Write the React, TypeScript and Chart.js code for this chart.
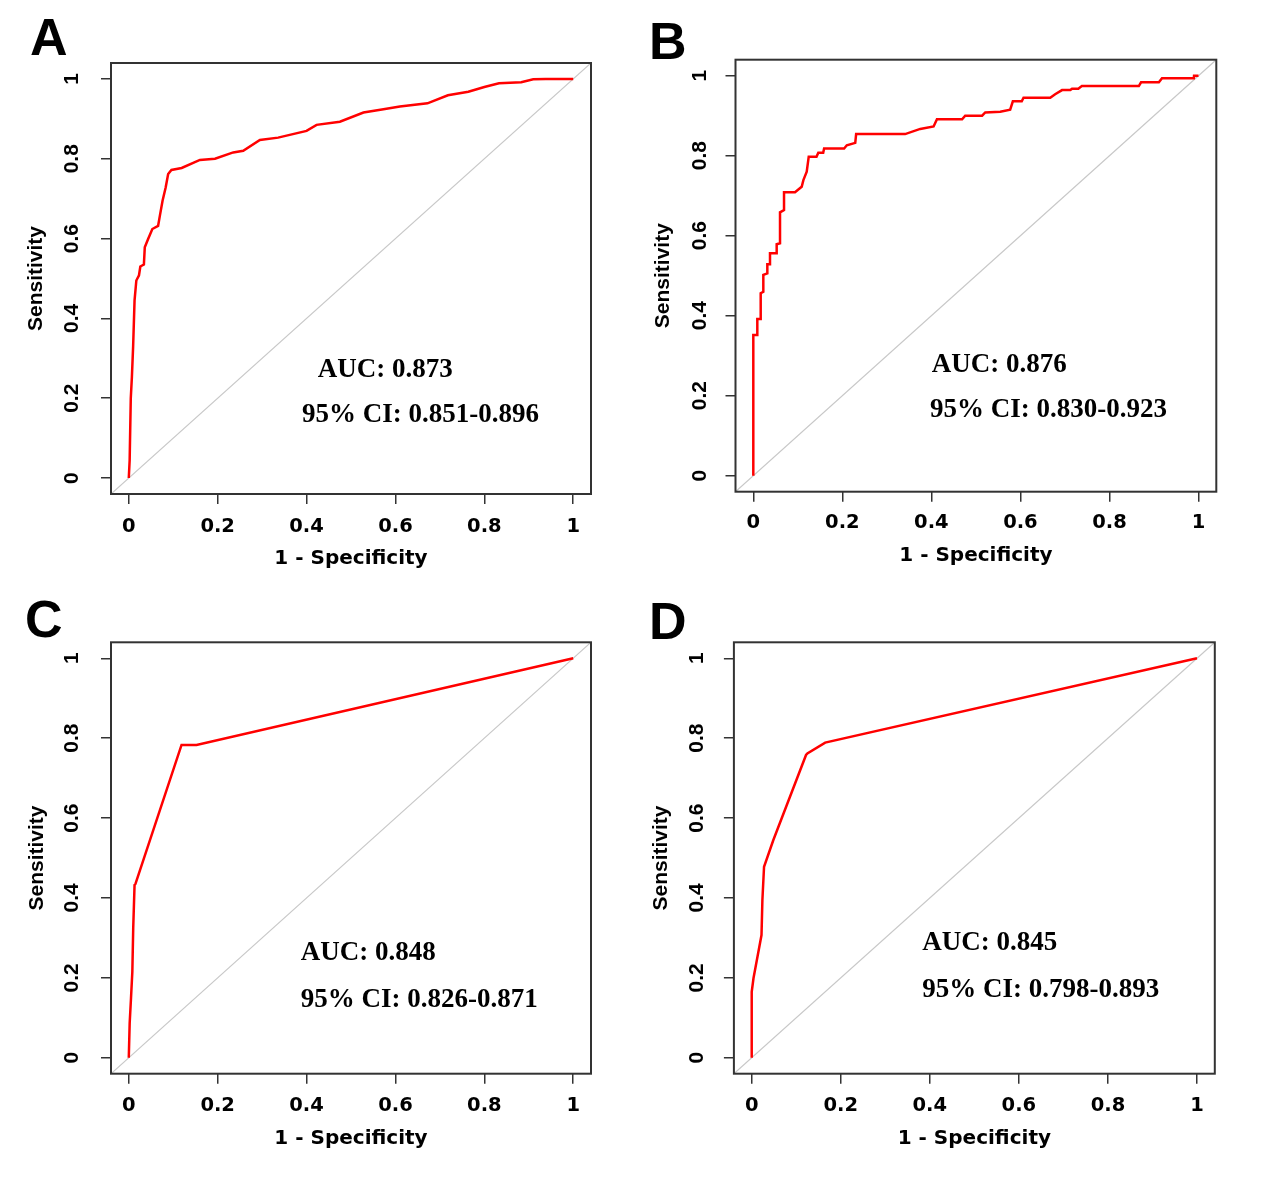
import React, { useEffect, useRef } from "react";
import { Chart, registerables } from "chart.js";

Chart.register(...registerables);

// ---------- data ----------
const TICK_VALUES = [0, 0.2, 0.4, 0.6, 0.8, 1];
const TICK_LABELS = ["0", "0.2", "0.4", "0.6", "0.8", "1"];
const X_TITLE = "1 - Specificity";
const Y_TITLE = "Sensitivity";
const PANEL_LETTERS = ["A", "B", "C", "D"];
const AUC_LABELS = ["AUC: 0.873", "AUC: 0.876", "AUC: 0.848", "AUC: 0.845"];
const CI_LABELS = [
  "95% CI: 0.851-0.896",
  "95% CI: 0.830-0.923",
  "95% CI: 0.826-0.871",
  "95% CI: 0.798-0.893",
];

const A_FPR = [0, 0.002, 0.0045, 0.007, 0.0098, 0.013, 0.017, 0.023, 0.026, 0.034, 0.036, 0.0435, 0.053, 0.066, 0.07, 0.076, 0.083, 0.0886, 0.096, 0.119, 0.16, 0.194, 0.235, 0.2575, 0.295, 0.336, 0.4, 0.4225, 0.475, 0.528, 0.573, 0.61, 0.672, 0.718, 0.764, 0.8, 0.833, 0.883, 0.91, 0.938, 1];
const A_TPR = [0, 0.045, 0.2, 0.253, 0.33, 0.445, 0.495, 0.508, 0.53, 0.535, 0.578, 0.599, 0.624, 0.632, 0.6575, 0.695, 0.728, 0.762, 0.772, 0.777, 0.797, 0.8, 0.816, 0.82, 0.847, 0.853, 0.87, 0.885, 0.893, 0.916, 0.924, 0.931, 0.939, 0.959, 0.968, 0.98, 0.989, 0.992, 0.999, 1, 1];

const B_FPR = [0, 0, 0.009, 0.009, 0.0166, 0.0166, 0.0225, 0.0225, 0.0315, 0.0315, 0.0375, 0.0375, 0.051, 0.0525, 0.06, 0.06, 0.069, 0.069, 0.0937, 0.1087, 0.1125, 0.12, 0.1245, 0.142, 0.146, 0.157, 0.159, 0.204, 0.21, 0.229, 0.231, 0.341, 0.375, 0.405, 0.4125, 0.469, 0.476, 0.514, 0.521, 0.5547, 0.577, 0.583, 0.603, 0.607, 0.667, 0.678, 0.6935, 0.712, 0.716, 0.73, 0.738, 0.866, 0.871, 0.911, 0.918, 0.9895, 0.99, 1];
const B_TPR = [0, 0.352, 0.352, 0.392, 0.392, 0.456, 0.46, 0.502, 0.506, 0.5285, 0.5285, 0.556, 0.556, 0.5785, 0.581, 0.6585, 0.664, 0.7085, 0.7085, 0.7225, 0.739, 0.76, 0.7975, 0.7975, 0.8075, 0.8075, 0.818, 0.818, 0.826, 0.832, 0.854, 0.854, 0.867, 0.873, 0.891, 0.891, 0.9, 0.9, 0.908, 0.91, 0.915, 0.936, 0.936, 0.945, 0.945, 0.9535, 0.964, 0.964, 0.9675, 0.9675, 0.974, 0.974, 0.9835, 0.9835, 0.9935, 0.9935, 1, 1];

const C_FPR = [0, 0.002, 0.005, 0.008, 0.01, 0.013, 0.015, 0.1187, 0.1524, 1];
const C_TPR = [0, 0.086, 0.149, 0.215, 0.324, 0.4325, 0.435, 0.783, 0.783, 1];

const D_FPR = [0, 0, 0.004, 0.022, 0.024, 0.0277, 0.0486, 0.122, 0.125, 0.165, 1];
const D_TPR = [0, 0.165, 0.199, 0.307, 0.395, 0.478, 0.545, 0.758, 0.762, 0.789, 1];

const DIAG_X = [-0.04, 1.04];
const DIAG_Y = [-0.04, 1.04];

const SERIES = [
  { fpr: A_FPR, tpr: A_TPR },
  { fpr: B_FPR, tpr: B_TPR },
  { fpr: C_FPR, tpr: C_TPR },
  { fpr: D_FPR, tpr: D_TPR },
];

// ---------- layout (page pixels) ----------
type Layout = {
  left: number; top: number; w: number; h: number;
  box: { l: number; t: number; r: number; b: number };
  xTickOff: number; xTitleOff: number; yTickOff: number; yTitleOff: number;
  letter: [number, number];
  auc: [number, number]; ci: [number, number];
};

const LAYOUTS: Layout[] = [
  { left: 0, top: 0, w: 634, h: 592, box: { l: 111, t: 63, r: 591, b: 494 },
    xTickOff: 32.5, xTitleOff: 64.5, yTickOff: 38.5, yTitleOff: 75,
    letter: [30, 55], auc: [0.425, 0.2525], ci: [0.39, 0.14] },
  { left: 634, top: 0, w: 635, h: 592, box: { l: 101.5, t: 59.7, r: 582.3, b: 491.7 },
    xTickOff: 31, xTitleOff: 64.5, yTickOff: 35.5, yTitleOff: 72.5,
    letter: [15, 59], auc: [0.401, 0.26], ci: [0.397, 0.147] },
  { left: 0, top: 592, w: 634, h: 592, box: { l: 111, t: 50.3, r: 591, b: 481.7 },
    xTickOff: 32, xTitleOff: 65.5, yTickOff: 39, yTitleOff: 74,
    letter: [25, 45], auc: [0.387, 0.245], ci: [0.387, 0.128] },
  { left: 634, top: 592, w: 635, h: 592, box: { l: 99.9, t: 50.3, r: 580.8, b: 481.7 },
    xTickOff: 32, xTitleOff: 65.5, yTickOff: 37, yTitleOff: 73,
    letter: [15, 47], auc: [0.383, 0.269], ci: [0.383, 0.152] },
];

const TICK_LEN = 10;
const X_TICK_FONT = { family: "'DejaVu Sans', sans-serif", weight: "bold" as const, size: 19.5, lineHeight: 1.2 };
const X_TITLE_FONT = { family: "'DejaVu Sans', sans-serif", weight: "bold" as const, size: 20, lineHeight: 1.2 };
const Y_TICK_FONT = { family: "'Liberation Sans', Arial, sans-serif", weight: "bold" as const, size: 21, lineHeight: 1.2 };
const Y_TITLE_FONT = { family: "'Liberation Sans', Arial, sans-serif", weight: "bold" as const, size: 21, lineHeight: 1.2 };

function measureWidest(): number {
  const c = document.createElement("canvas");
  const ctx = c.getContext("2d");
  if (!ctx) return 29;
  ctx.font = `bold ${Y_TICK_FONT.size}px ${Y_TICK_FONT.family}`;
  return Math.max(...TICK_LABELS.map((t) => ctx.measureText(t).width));
}

function Panel({ idx }: { idx: number }) {
  const ref = useRef<HTMLCanvasElement | null>(null);
  const L = LAYOUTS[idx];
  useEffect(() => {
    if (!ref.current) return;
    const s = SERIES[idx];
    const yWidest = measureWidest();
    const overlay = {
      id: "rocOverlay",
      afterDraw(chart: any) {
        const ctx = chart.ctx as CanvasRenderingContext2D;
        const ca = chart.chartArea;
        const xs = chart.scales.x;
        const ys = chart.scales.y;
        ctx.save();
        ctx.strokeStyle = "#333333";
        ctx.lineWidth = 2;
        ctx.strokeRect(ca.left, ca.top, ca.right - ca.left, ca.bottom - ca.top);
        ctx.fillStyle = "#000";
        ctx.textBaseline = "alphabetic";
        ctx.textAlign = "left";
        ctx.font = "bold 27px 'Liberation Serif', 'Times New Roman', serif";
        ctx.fillText(AUC_LABELS[idx], xs.getPixelForValue(L.auc[0]), ys.getPixelForValue(L.auc[1]));
        ctx.fillText(CI_LABELS[idx], xs.getPixelForValue(L.ci[0]), ys.getPixelForValue(L.ci[1]));
        ctx.font = "bold 52px 'Liberation Sans', Arial, sans-serif";
        ctx.fillText(PANEL_LETTERS[idx], L.letter[0], L.letter[1]);
        ctx.restore();
      },
    };
    const chart = new Chart(ref.current, {
      type: "line",
      data: {
        datasets: [
          {
            data: s.fpr.map((x, i) => ({ x, y: s.tpr[i] })),
            borderColor: "#ff0000",
            borderWidth: 2.5,
            pointRadius: 0,
            tension: 0,
            fill: false,
          },
          {
            data: DIAG_X.map((x, i) => ({ x, y: DIAG_Y[i] })),
            borderColor: "#c8c8c8",
            borderWidth: 1.2,
            pointRadius: 0,
            fill: false,
          },
        ],
      },
      options: {
        responsive: false,
        animation: false,
        devicePixelRatio: 1,
        events: [],
        layout: { padding: { left: 0, top: L.box.t, right: L.w - L.box.r, bottom: 0 } },
        plugins: { legend: { display: false }, tooltip: { enabled: false } },
        scales: {
          x: {
            type: "linear",
            position: "bottom",
            min: -0.04,
            max: 1.04,
            afterBuildTicks: (sc: any) => { sc.ticks = TICK_VALUES.map((v) => ({ value: v })); },
            afterFit: (sc: any) => { sc.height = L.h - L.box.b; },
            grid: { drawOnChartArea: false, drawTicks: true, tickLength: TICK_LEN, color: "#333333", lineWidth: 1.5 },
            border: { display: false },
            ticks: {
              autoSkip: false,
              maxRotation: 0,
              minRotation: 0,
              color: "#000",
              font: X_TICK_FONT,
              padding: L.xTickOff - TICK_LEN - (X_TICK_FONT.size * 1.2) / 2,
              callback: (_v: any, i: number) => TICK_LABELS[i],
            },
            title: {
              display: true,
              text: X_TITLE,
              color: "#000",
              font: X_TITLE_FONT,
              padding: { top: 0, bottom: L.h - L.box.b - L.xTitleOff - (X_TITLE_FONT.size * 1.2) / 2 },
            },
          },
          y: {
            type: "linear",
            position: "left",
            min: -0.04,
            max: 1.04,
            afterBuildTicks: (sc: any) => { sc.ticks = TICK_VALUES.map((v) => ({ value: v })); },
            afterFit: (sc: any) => { sc.width = L.box.l; },
            grid: { drawOnChartArea: false, drawTicks: true, tickLength: TICK_LEN, color: "#333333", lineWidth: 1.5 },
            border: { display: false },
            ticks: {
              autoSkip: false,
              minRotation: 90,
              maxRotation: 90,
              crossAlign: "center",
              color: "#000",
              font: Y_TICK_FONT,
              padding: L.yTickOff - TICK_LEN - yWidest / 2,
              callback: (_v: any, i: number) => TICK_LABELS[i],
            },
            title: {
              display: true,
              text: Y_TITLE,
              color: "#000",
              font: Y_TITLE_FONT,
              padding: { top: L.box.l - L.yTitleOff - (Y_TITLE_FONT.size * 1.2) / 2, bottom: 0 },
            },
          },
        },
      } as any,
      plugins: [overlay],
    });
    return () => chart.destroy();
  }, [idx]);
  return (
    <canvas
      ref={ref}
      width={L.w}
      height={L.h}
      style={{ position: "absolute", left: L.left, top: L.top, width: L.w, height: L.h }}
    />
  );
}

export default function App() {
  return (
    <div style={{ position: "absolute", left: 0, top: 0, width: 1269, height: 1184, background: "#ffffff" }}>
      {[0, 1, 2, 3].map((i) => (
        <Panel key={i} idx={i} />
      ))}
    </div>
  );
}
